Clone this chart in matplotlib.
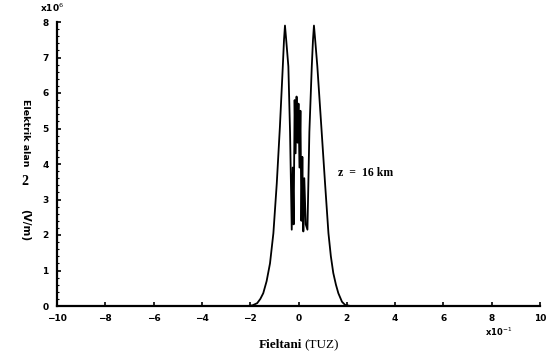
import matplotlib
matplotlib.use("Agg")
import matplotlib.pyplot as plt
from matplotlib.ticker import MultipleLocator

# --- data ---
x_left = [-10.0, -2.1, -1.9, -1.71, -1.58, -1.46, -1.32, -1.18, -1.04, -0.90, -0.77, -0.65, -0.60, -0.56, -0.51, -0.42, -0.35, -0.28]
y_left = [0.0, 0.0, 0.02, 0.08, 0.20, 0.36, 0.70, 1.20, 2.05, 3.45, 5.05, 6.75, 7.50, 7.90, 7.50, 6.75, 4.90, 2.15]
x_mid = [-0.24, -0.20, -0.16, -0.12, -0.08, -0.04, 0.00, 0.04, 0.08, 0.12, 0.16, 0.20, 0.24, 0.30]
y_mid = [3.90, 2.30, 5.80, 4.30, 5.90, 4.60, 5.70, 3.90, 5.50, 2.40, 4.20, 2.10, 3.60, 2.30]
x_right = [0.37, 0.45, 0.55, 0.60, 0.64, 0.69, 0.78, 0.96, 1.10, 1.24, 1.34, 1.44, 1.55, 1.65, 1.80, 1.93, 2.15, 10.0]
y_right = [2.15, 4.90, 6.75, 7.50, 7.90, 7.50, 6.75, 4.90, 3.45, 2.05, 1.40, 0.93, 0.60, 0.36, 0.12, 0.03, 0.0, 0.0]

x_ticks = [-10, -8, -6, -4, -2, 0, 2, 4, 6, 8, 10]
y_ticks = [0, 1, 2, 3, 4, 5, 6, 7, 8]

xs = x_left + x_mid + x_right
ys = y_left + y_mid + y_right

fig = plt.figure(figsize=(5.55, 3.59), dpi=100)
ax = fig.add_axes([57/555, 1-306/359, (540-57)/555, (306-22)/359])
ax.plot(xs, ys, color="black", lw=1.3)

ax.set_xlim(-10, 10)
ax.set_ylim(0, 8)
ax.set_xticks(x_ticks)
ax.set_yticks(y_ticks)
ax.yaxis.set_minor_locator(MultipleLocator(0.2))
for s in ("top", "right"):
    ax.spines[s].set_visible(False)
for s in ("left", "bottom"):
    ax.spines[s].set_linewidth(1.6)
ax.tick_params(which="major", direction="in", length=3, width=1.2,
               labelsize=6.5, pad=6)
ax.tick_params(which="minor", direction="in", length=1.5, width=0.8)
for lab in ax.get_xticklabels() + ax.get_yticklabels():
    lab.set_fontweight("bold")

# multiplier annotations
fig.text(40/555, 1-8/359, r"x10$^6$", fontsize=6.5, fontweight="bold",
         ha="left", va="center")
fig.text(485/555, 1-332/359, r"x10$^{-1}$", fontsize=6, fontweight="bold",
         ha="left", va="center")

# inline label
ax.text(1.65, 3.75, "z  =  16 km", family="Liberation Serif",
        fontsize=8.5, fontweight="bold", ha="left", va="center")

# x label
fig.text(302/555, 1-345/359, "Fieltani", family="Liberation Serif",
         fontsize=9.5, fontweight="bold", ha="right", va="center")
fig.text(304/555, 1-345/359, "(TUZ)", family="Liberation Serif",
         fontsize=9.5, ha="left", va="center")

# y label pieces
fig.text(25/555, 1-133/359, "Elektrik alan", fontsize=6.8, fontweight="bold",
         rotation=270, ha="center", va="center")
fig.text(25/555, 1-181/359, "2", family="Liberation Serif", fontsize=10,
         fontweight="bold", ha="center", va="center")
fig.text(25/555, 1-225/359, "(V/m)", fontsize=7.5, fontweight="bold",
         rotation=270, ha="center", va="center")

fig.savefig("out.png", dpi=100)
